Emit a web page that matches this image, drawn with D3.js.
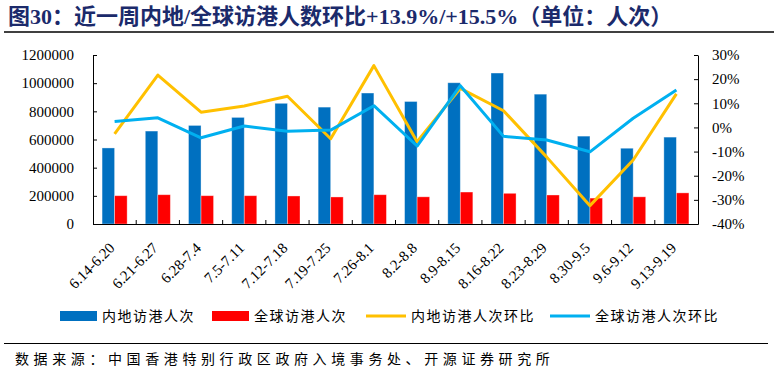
<!DOCTYPE html>
<html>
<head>
<meta charset="utf-8">
<script src="https://cdn.jsdelivr.net/npm/d3@7"></script>
<style>
  body { margin: 0; background: #fff; }
  svg { display: block; }
  .serif { font-family: "Liberation Serif", "DejaVu Serif", serif; }
  .cjk { font-family: "Noto Sans CJK SC", sans-serif; }
</style>
</head>
<body>
<svg id="chart" width="774" height="374"></svg>
<script>
const weeks = ['6.14-6.20', '6.21-6.27', '6.28-7.4', '7.5-7.11', '7.12-7.18', '7.19-7.25', '7.26-8.1',
  '8.2-8.8', '8.9-8.15', '8.16-8.22', '8.23-8.29', '8.30-9.5', '9.6-9.12', '9.13-9.19'];
const mainland = [540000, 660000, 700000, 757000, 857000, 830000, 930000,
  870000, 1003000, 1072000, 922000, 624000, 538000, 617000];
const global = [201000, 208000, 201000, 201000, 199000, 192000, 208000,
  193000, 227000, 218000, 206000, 184000, 193000, 221000];
const mainlandWow = [-2.7, 21.7, 6.3, 8.9, 12.9, -4.7, 25.6, -5.9, 16.2, 6.9, -12.3, -32.4, -13.5, 13.9];
const globalWow = [2.5, 4.0, -4.3, 0.6, -1.6, -1.1, 9.0, -7.7, 17.3, -3.7, -5.2, -10.1, 3.8, 15.5];
const leftTicks = [0, 200000, 400000, 600000, 800000, 1000000, 1200000];
const rightTicks = [-40, -30, -20, -10, 0, 10, 20, 30];

const svg = d3.select('#chart');
const margin = {top: 55, right: 76, bottom: 150, left: 93};
const width = 774 - margin.left - margin.right;
const height = 374 - margin.top - margin.bottom;

// title
svg.append('text')
    .attr('x', 8)
    .attr('y', 24)
    .attr('fill', '#1b2a6b')
    .attr('font-weight', 'bold')
    .attr('font-size', 22)
    .style('font-family', '"Liberation Serif", "Noto Sans CJK SC", serif')
    .text('图30：近一周内地/全球访港人数环比+13.9%/+15.5%（单位：人次）');
svg.append('line')
    .attr('x1', 4).attr('x2', 774)
    .attr('y1', 32).attr('y2', 32)
    .attr('stroke', '#000').attr('stroke-width', 1.5);

const chart = svg.append('g')
    .attr('transform', `translate(${margin.left},${margin.top})`);

const x = d3.scaleBand()
    .domain(weeks)
    .range([0, width]);

const x1 = d3.scaleBand()
    .domain(['mainland', 'global'])
    .range([x.bandwidth() * 0.21, x.bandwidth() * 0.79]);

const y = d3.scaleLinear()
    .domain([0, 1200000])
    .range([height, 0]);

const y2 = d3.scaleLinear()
    .domain([-40, 30])
    .range([height, 0]);

// bars
const barColors = {mainland: '#0070c0', global: '#ff0000'};
const rows = weeks.map((w, i) => ({week: w, mainland: mainland[i], global: global[i]}));

chart.selectAll('.grp')
    .data(rows)
  .enter().append('g')
    .attr('class', 'grp')
    .attr('transform', d => `translate(${x(d.week)},0)`)
  .selectAll('rect')
    .data(d => ['mainland', 'global'].map(k => ({key: k, value: d[k]})))
  .enter().append('rect')
    .attr('x', d => x1(d.key))
    .attr('y', d => y(d.value))
    .attr('width', x1.bandwidth())
    .attr('height', d => height - y(d.value))
    .attr('fill', d => barColors[d.key])
    .attr('stroke', '#fff')
    .attr('stroke-opacity', 0.45)
    .attr('stroke-width', 0.8);

// lines
const line = d3.line()
    .x((d, i) => x(weeks[i]) + x.bandwidth() / 2)
    .y(d => y2(d));

chart.append('path')
    .datum(mainlandWow)
    .attr('fill', 'none')
    .attr('stroke', '#ffc000')
    .attr('stroke-width', 3)
    .attr('stroke-linejoin', 'round')
    .attr('d', line);

chart.append('path')
    .datum(globalWow)
    .attr('fill', 'none')
    .attr('stroke', '#00b0f0')
    .attr('stroke-width', 3)
    .attr('stroke-linejoin', 'round')
    .attr('d', line);

// axes
const yAxis = d3.axisLeft(y)
    .tickValues(leftTicks)
    .tickFormat(d3.format('d'))
    .tickSizeInner(-4)
    .tickSizeOuter(0)
    .tickPadding(19);

const yAxisRight = d3.axisRight(y2)
    .tickValues(rightTicks)
    .tickFormat(d => d + '%')
    .tickSizeInner(-4)
    .tickSizeOuter(0)
    .tickPadding(14);

chart.append('g')
    .attr('class', 'y axis serif')
    .call(yAxis);

chart.append('g')
    .attr('class', 'y2 axis serif')
    .attr('transform', `translate(${width},0)`)
    .call(yAxisRight);

const xAxis = chart.append('g')
    .attr('class', 'x axis serif')
    .attr('transform', `translate(0,${height})`)
    .call(d3.axisBottom(x).tickSize(0).tickPadding(0));

xAxis.selectAll('.tick text')
    .attr('text-anchor', 'end')
    .attr('dy', 0)
    .attr('transform', 'translate(1,25) rotate(-45)');

// boundary ticks on x axis
xAxis.selectAll('.bound')
    .data(d3.range(1, weeks.length))
  .enter().append('line')
    .attr('class', 'bound')
    .attr('x1', i => i * x.step())
    .attr('x2', i => i * x.step())
    .attr('y1', 0)
    .attr('y2', -4)
    .attr('stroke', '#000');

chart.selectAll('.axis text')
    .attr('font-size', 15)
    .attr('fill', '#000')
    .style('font-family', '"Liberation Serif", serif');
chart.selectAll('.axis path, .axis line')
    .attr('stroke', '#000');

// legend
const legend = svg.append('g')
    .attr('class', 'cjk')
    .attr('font-size', 14)
    .attr('letter-spacing', 1.5);

const items = [
  {label: '内地访港人次', color: '#0070c0', type: 'rect', x: 60},
  {label: '全球访港人次', color: '#ff0000', type: 'rect', x: 212},
  {label: '内地访港人次环比', color: '#ffc000', type: 'line', x: 366},
  {label: '全球访港人次环比', color: '#00b0f0', type: 'line', x: 550}
];

items.forEach(it => {
  const g = legend.append('g').attr('transform', `translate(${it.x},316)`);
  if (it.type === 'rect') {
    g.append('rect')
        .attr('x', 0).attr('y', -5)
        .attr('width', 37).attr('height', 10)
        .attr('fill', it.color);
  } else {
    g.append('line')
        .attr('x1', 0).attr('x2', 40)
        .attr('stroke', it.color)
        .attr('stroke-width', 3);
  }
  g.append('text')
      .attr('x', it.type === 'rect' ? 42 : 45)
      .attr('dy', '0.36em')
      .attr('fill', '#000')
      .text(it.label);
});

// source
svg.append('line')
    .attr('x1', 4).attr('x2', 768)
    .attr('y1', 343.5).attr('y2', 343.5)
    .attr('stroke', '#000').attr('stroke-width', 1.2);

svg.append('text')
    .attr('class', 'cjk')
    .attr('x', 15)
    .attr('y', 364)
    .attr('font-size', 14)
    .attr('letter-spacing', 4.6)
    .attr('fill', '#000')
    .text('数据来源：中国香港特别行政区政府入境事务处、开源证券研究所');
</script>
</body>
</html>
